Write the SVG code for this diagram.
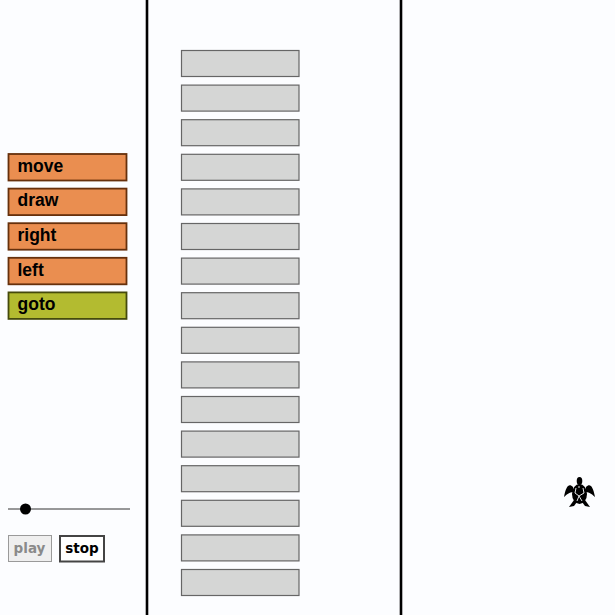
<svg xmlns="http://www.w3.org/2000/svg" width="615" height="615" viewBox="0 0 615 615">
<style>
.slot{fill:#d5d6d5;stroke:#666;stroke-width:1.2}
.blk{stroke-width:1.8}
.orange{fill:#ea8e50;stroke:#66300c}
.green{fill:#b3bb30;stroke:#454a0c}
.lbl{font:bold 17.5px "Liberation Sans",Arial,sans-serif;fill:#000}
.btn{font:bold 13.500px "DejaVu Sans",Verdana,sans-serif;text-anchor:middle}
</style>
<rect width="615" height="615" fill="#fcfdff"/>
<g id="dividers" stroke="#000" stroke-width="2.600">
<line x1="147" y1="0" x2="147" y2="615"/>
<line x1="401" y1="0" x2="401" y2="615"/>
</g>
<g id="palette">
<g id="block-move"><rect class="blk orange" x="8.500" y="154" width="118" height="26.500"/><text class="lbl" x="17.500" y="172">move</text></g>
<g id="block-draw"><rect class="blk orange" x="8.500" y="188.600" width="118" height="26.500"/><text class="lbl" x="17.500" y="206">draw</text></g>
<g id="block-right"><rect class="blk orange" x="8.500" y="223.200" width="118" height="26.500"/><text class="lbl" x="17.500" y="241">right</text></g>
<g id="block-left"><rect class="blk orange" x="8.500" y="257.800" width="118" height="26.500"/><text class="lbl" x="17.500" y="276">left</text></g>
<g id="block-goto"><rect class="blk green" x="8.500" y="292.400" width="118" height="26.500"/><text class="lbl" x="17.500" y="310">goto</text></g>
</g>
<g id="slots">
<rect class="slot" x="181.500" y="50.500" width="117.500" height="26"/>
<rect class="slot" x="181.500" y="85.100" width="117.500" height="26"/>
<rect class="slot" x="181.500" y="119.700" width="117.500" height="26"/>
<rect class="slot" x="181.500" y="154.300" width="117.500" height="26"/>
<rect class="slot" x="181.500" y="188.900" width="117.500" height="26"/>
<rect class="slot" x="181.500" y="223.500" width="117.500" height="26"/>
<rect class="slot" x="181.500" y="258.100" width="117.500" height="26"/>
<rect class="slot" x="181.500" y="292.700" width="117.500" height="26"/>
<rect class="slot" x="181.500" y="327.300" width="117.500" height="26"/>
<rect class="slot" x="181.500" y="361.900" width="117.500" height="26"/>
<rect class="slot" x="181.500" y="396.500" width="117.500" height="26"/>
<rect class="slot" x="181.500" y="431.100" width="117.500" height="26"/>
<rect class="slot" x="181.500" y="465.700" width="117.500" height="26"/>
<rect class="slot" x="181.500" y="500.300" width="117.500" height="26"/>
<rect class="slot" x="181.500" y="534.900" width="117.500" height="26"/>
<rect class="slot" x="181.500" y="569.500" width="117.500" height="26"/>
</g>
<g id="slider">
<line x1="8" y1="509" x2="130" y2="509" stroke="#333" stroke-width="1"/>
<circle cx="25.500" cy="509" r="5.500" fill="#000"/>
</g>
<g id="play"><rect x="8.500" y="535.500" width="43" height="26" fill="#efefef" stroke="#9a9a9a" stroke-width="1"/><text class="btn" x="29.500" y="553" fill="#8a8a8a">play</text></g>
<g id="stop"><rect x="60" y="536" width="44" height="25.500" fill="#fff" stroke="#444" stroke-width="2"/><text class="btn" x="82" y="553" fill="#000">stop</text></g>
<g id="turtle" fill="#000">
<ellipse cx="579.500" cy="494" rx="7.500" ry="10"/>
<ellipse cx="579.500" cy="481" rx="2.800" ry="4"/>
<path d="M573 487C569 483 566 486 564 497C568 493 571 492 574 492Z"/>
<path d="M586 487C590 483 593 486 595 497C591 493 588 492 585 492Z"/>
<path d="M574 500L569 507L574 506L577 502Z"/>
<path d="M585 500L590 507L585 506L582 502Z"/>
<g fill="none" stroke="#fcfdff" stroke-width="0.900"><path d="M576 488L575 493L579 496L584 493L583 488M579 496L577 501M579 496L582 501M579 486V488"/></g>
</g>
</svg>
